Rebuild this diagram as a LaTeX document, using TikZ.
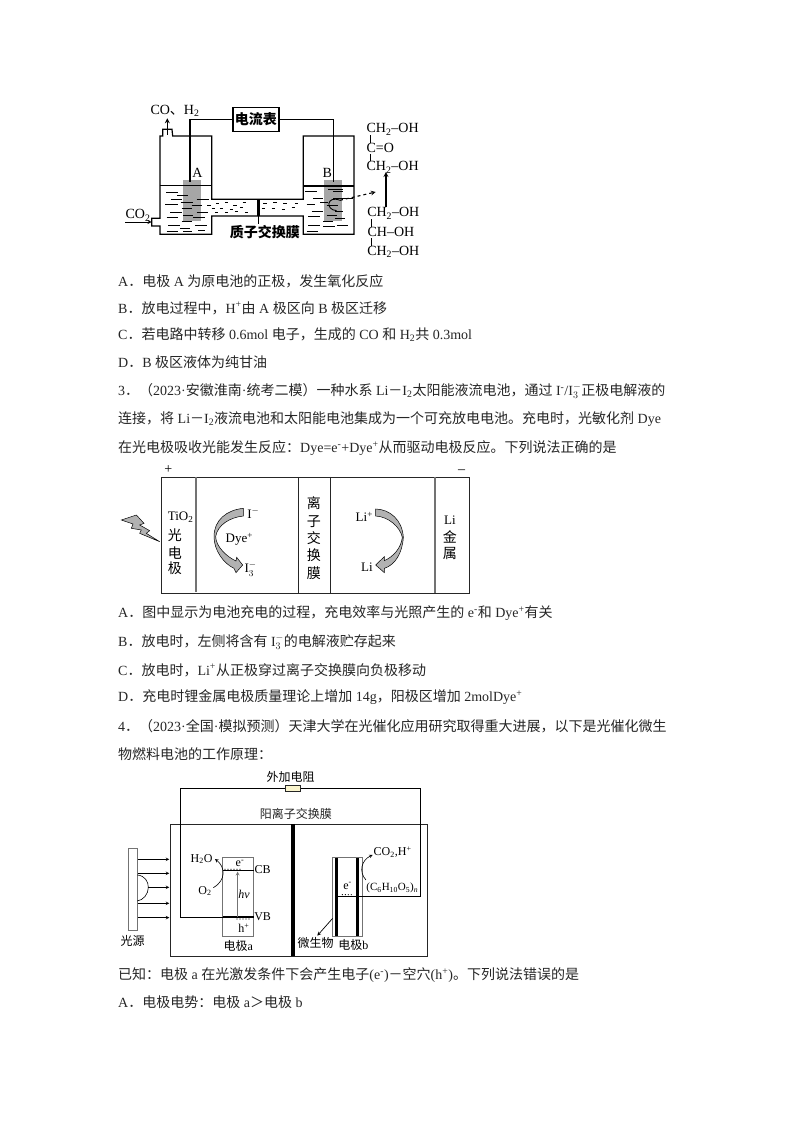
\documentclass[tikz,border=0pt]{standalone}
\usepackage{fontspec}
\setmainfont{Liberation Serif}
\newfontfamily\cjk{Noto Sans CJK SC}
\newcommand{\zh}[1]{{\cjk #1}}
\usetikzlibrary{arrows.meta}
\definecolor{inkgray}{gray}{0.15}
\definecolor{bandgray}{gray}{0.45}
\definecolor{resyellow}{RGB}{250,245,205}
\tikzset{
  bodyline/.style={anchor=west, inner sep=0pt, font=\fontsize{14}{16}\selectfont, text=inkgray},
  biglabel/.style={inner sep=0pt, font=\fontsize{14}{16}\selectfont},
  midlabel/.style={inner sep=0pt, font=\fontsize{13}{15}\selectfont},
  smalllabel/.style={inner sep=0pt, font=\fontsize{12}{14}\selectfont},
  wire/.style={draw=black, line width=1.2pt},
  thindash/.style={line width=0.8pt},
  grayarrow/.style={draw=black, line width=0.5pt, fill=gray!60}
}
\begin{document}
\begin{tikzpicture}[x=1pt, y=-1pt]
\useasboundingbox[fill=white] (0,0) rectangle (794,1123);

\begin{scope}[shift={(110,90)}, x=0.3333pt, y=-0.3333pt]
\node[draw, line width=1.2pt, minimum width=46pt, minimum height=24pt, inner sep=0pt, font=\fontsize{14}{16}\selectfont\cjk\bfseries] (meter) at (438,88) {电流表};
\node[fill=gray!70, minimum width=18pt, minimum height=41pt, inner sep=0pt] (elecA) at (247,333) {};
\node[fill=gray!70, minimum width=18pt, minimum height=41pt, inner sep=0pt] (elecB) at (668,333) {};
\coordinate (wireA) at (240,275);
\coordinate (wireB) at (670,275);
\draw[wire] (meter.west) -- (wireA |- meter.west) -- (wireA);
\draw[wire] (meter.east) -- (wireB |- meter.east) -- (wireB);
\draw[wire] (150,385) -- (150,138) -- (158,138) -- (158,118) -- (186,118) -- (188,138) -- (305,138) -- (305,328) -- (580,328) -- (580,138) -- (732,138) -- (732,433) -- (580,433) -- (580,378) -- (305,378) -- (305,433) -- (150,433) -- (150,408) -- (125,408) -- (125,385) -- cycle;
\draw[wire] (150,287) -- (305,287);
\draw[wire] (580,288) -- (732,288);
\draw[line width=3.4pt] (445,328) -- (445,378);
\draw[line width=0.8pt] (445,378) -- (445,402);
\coordinate (outTop) at (172,85);
\draw[wire, ->, >=stealth] (172,135) -- (outTop);
\node[biglabel] (gasOut) at (195,62) {CO\zh{、}H\textsubscript{2}};
\node[biglabel] (labA) at (262,250) {A};
\node[biglabel] (labB) at (652,250) {B};
\node[biglabel] (gasIn) at (84,376) {CO\textsubscript{2}};
\coordinate (inEnd) at (125,396);
\coordinate (inStart) at (45,396);
\draw[line width=0.9pt, ->, >=stealth] (inStart) -- (inEnd);
\node[inner sep=0pt, font=\fontsize{14}{16}\selectfont\cjk\bfseries] (memName) at (465,425) {质子交换膜};
\node[biglabel] (ketoA) at (848,118) {CH\textsubscript{2}–OH};
\node[biglabel] (ketoB) at (811,175) {C=O};
\node[biglabel] (ketoC) at (848,232) {CH\textsubscript{2}–OH};
\node[biglabel] (glyA) at (850,370) {CH\textsubscript{2}–OH};
\node[biglabel] (glyB) at (843,427) {CH–OH};
\node[biglabel] (glyC) at (850,485) {CH\textsubscript{2}–OH};
\draw[line width=0.9pt] (781,136) -- (781,158);
\draw[line width=0.9pt] (781,192) -- (781,214);
\draw[line width=0.9pt] (785,388) -- (785,410);
\draw[line width=0.9pt] (785,445) -- (785,467);
\draw[wire, ->, >=stealth] (828,350) -- (828,246);
\coordinate (curlEnd) at (690,331);
\coordinate (dashEnd) at (797,306);
\draw[line width=1.1pt, dashed, ->, >=stealth] (curlEnd) -- (dashEnd);
\draw[line width=0.9pt] (curlEnd) .. controls (650,315) and (645,360) .. (680,362);
\end{scope}

\begin{scope}[shift={(150,165)}, x=0.3333pt, y=-0.3333pt]
\foreach \xa/\xb/\ya in {48/85/83,62/95/102,82/115/92,45/85/118,92/130/112,140/178/102,60/95/142,95/125/130,125/155/120,50/85/158,100/130/152,140/175/142,95/125/168,130/165/158,55/90/182,90/120/190,135/170/180,50/85/198,100/125/198,145/165/195}
  \draw[thindash] (\xa,\ya) -- (\xb,\ya);
\foreach \xa/\ya in {172/120,198/115,225/112,250/120,278/113,185/130,210/130,240/132,270/128,195/143,225/143,255/140,285/142}
  \draw[thindash] (\xa,\ya) -- ++(10,0);
\end{scope}
\begin{scope}[shift={(110,90)}, x=0.3333pt, y=-0.3333pt]
\foreach \xa/\ya in {460/340,490/338,520/340,555/340,455/355,485/355,515/358,545/352}
  \draw[thindash] (\xa,\ya) -- ++(10,0);
\end{scope}
\begin{scope}[shift={(295,165)}, x=0.3333pt, y=-0.3333pt]
\foreach \xa/\xb/\ya in {30/65/80,55/85/100,100/145/72,115/145/80,35/60/118,75/100/112,115/150/100,140/175/100,50/85/138,95/130/122,40/75/155,95/125/150,120/145/140,85/115/170,120/150/160,40/75/182,125/160/180,35/70/198,85/120/185}
  \draw[thindash] (\xa,\ya) -- (\xb,\ya);
\end{scope}

\node[bodyline] (optA1) at (118,281) {A\zh{．电极} A \zh{为原电池的正极，发生氧化反应}};
\node[bodyline] (optB1) at (118,308) {B\zh{．放电过程中，}H\textsuperscript{+}\zh{由} A \zh{极区向} B \zh{极区迁移}};
\node[bodyline] (optC1) at (118,335) {C\zh{．若电路中转移} 0.6mol \zh{电子，生成的} CO \zh{和} H\textsubscript{2}\zh{共} 0.3mol};
\node[bodyline] (optD1) at (118,362) {D\zh{．}B \zh{极区液体为纯甘油}};
\node[bodyline] (q3a) at (118,391) {3\zh{．（}2023·\zh{安徽淮南}·\zh{统考二模）一种水系} Li\zh{－}I\textsubscript{2}\zh{太阳能液流电池，通过} I\textsuperscript{-}/I$^{-}_{3}$\zh{正极电解液的}};
\node[bodyline] (q3b) at (118,419) {\zh{连接，将} Li\zh{－}I\textsubscript{2}\zh{液流电池和太阳能电池集成为一个可充放电电池。充电时，光敏化剂} Dye};
\node[bodyline] (q3c) at (118,448) {\zh{在光电极吸收光能发生反应：}Dye=e\textsuperscript{-}+Dye\textsuperscript{+}\zh{从而驱动电极反应。下列说法正确的是}};

\begin{scope}[shift={(110,460)}, x=0.3333pt, y=-0.3333pt]
\node[draw=inkgray, line width=1pt, minimum width=308.3pt, minimum height=116pt, inner sep=0pt] (cellTwo) at (617.5,226) {};
\coordinate (sepA) at (258,395);
\coordinate (sepB) at (565,400);
\coordinate (sepC) at (660,400);
\coordinate (sepD) at (975,400);
\draw[draw=bandgray, line width=1.4pt] (sepA |- cellTwo.north) -- (sepA);
\draw[draw=inkgray, line width=0.9pt] (sepB |- cellTwo.north) -- (sepB);
\draw[draw=inkgray, line width=0.9pt] (sepC |- cellTwo.north) -- (sepC);
\draw[draw=bandgray, line width=1.2pt] (sepD |- cellTwo.north) -- (sepD);
\node[biglabel] (plusSign) at (175,28) {+};
\node[biglabel] (minusSign) at (1055,35) {–};
\node[midlabel, align=center] (tioLabel) at (212,172) {TiO\textsubscript{2}};
\node[biglabel] (tioB) at (195,225) {\zh{光}};
\node[biglabel] (tioC) at (195,278) {\zh{电}};
\node[biglabel] (tioD) at (195,325) {\zh{极}};
\node[midlabel] (iodide) at (430,160) {I$^{-}$};
\node[midlabel] (dyePlus) at (388,238) {Dye\textsuperscript{+}};
\node[midlabel] (triiodide) at (422,328) {I$^{-}_{3}$};
\node[biglabel] (memA) at (612,130) {\zh{离}};
\node[biglabel] (memB) at (612,185) {\zh{子}};
\node[biglabel] (memC) at (612,235) {\zh{交}};
\node[biglabel] (memD) at (612,287) {\zh{换}};
\node[biglabel] (memE) at (612,340) {\zh{膜}};
\node[midlabel] (liPlus) at (763,170) {Li\textsuperscript{+}};
\node[midlabel] (liOut) at (771,322) {Li};
\node[midlabel] (metalA) at (1020,180) {Li};
\node[biglabel] (metalB) at (1020,230) {\zh{金}};
\node[biglabel] (metalC) at (1020,280) {\zh{属}};
\end{scope}
\begin{scope}[shift={(118,500)}, x=0.3333pt, y=-0.3333pt]
\draw[grayarrow] (10,60) -- (55,45) -- (78,70) -- (65,75) -- (95,92) -- (85,100) -- (125,125) -- (65,100) -- (70,90) -- (40,85) -- (45,72) -- cycle;
\end{scope}
\begin{scope}[shift={(210,500)}, x=0.3333pt, y=-0.3333pt]
\draw[grayarrow] (100,25) .. controls (50,30) and (12,60) .. (12,110) .. controls (12,150) and (40,190) .. (72,205) -- (78,218) -- (98,195) -- (80,172) -- (78,183) .. controls (50,170) and (18,140) .. (17,110) .. controls (22,75) and (60,52) .. (100,48) -- cycle;
\end{scope}
\begin{scope}[shift={(345,500)}, x=0.3333pt, y=-0.3333pt]
\draw[grayarrow] (92,27) .. controls (135,28) and (172,60) .. (175,112) .. controls (172,160) and (150,195) .. (118,205) -- (118,218) -- (92,195) -- (118,170) -- (118,182) .. controls (145,170) and (168,145) .. (172,112) .. controls (165,80) and (130,50) .. (92,48) -- cycle;
\end{scope}

\node[bodyline] (optA2) at (118,613) {A\zh{．图中显示为电池充电的过程，充电效率与光照产生的} e\textsuperscript{-}\zh{和} Dye\textsuperscript{+}\zh{有关}};
\node[bodyline] (optB2) at (118,642) {B\zh{．放电时，左侧将含有} I$^{-}_{3}$\zh{的电解液贮存起来}};
\node[bodyline] (optC2) at (118,670) {C\zh{．放电时，}Li\textsuperscript{+}\zh{从正极穿过离子交换膜向负极移动}};
\node[bodyline] (optD2) at (118,697) {D\zh{．充电时锂金属电极质量理论上增加} 14g\zh{，阳极区增加} 2molDye\textsuperscript{+}};
\node[bodyline] (q4a) at (118,726) {4\zh{．（}2023·\zh{全国}·\zh{模拟预测）天津大学在光催化应用研究取得重大进展，以下是光催化微生}};
\node[bodyline] (q4b) at (118,754) {\zh{物燃料电池的工作原理：}};

\begin{scope}[shift={(110,765)}, x=0.3333pt, y=-0.3333pt]
\node[draw=inkgray, line width=0.8pt, minimum width=257.3pt, minimum height=131.7pt, inner sep=0pt] (cellThree) at (566,375.5) {};
\node[draw=inkgray, line width=0.8pt, fill=resyellow, minimum width=15.7pt, minimum height=5.3pt, inner sep=0pt] (resistor) at (548.5,70) {};
\node[draw=bandgray, line width=0.8pt, fill=white, minimum width=8.7pt, minimum height=82.3pt, inner sep=0pt] (lampBar) at (69,373.5) {};
\node[draw=bandgray, line width=0.8pt, minimum width=30.7pt, minimum height=78.3pt, inner sep=0pt] (elecBoxA) at (384,395.5) {};
\node[draw=bandgray, line width=0.8pt, minimum width=30pt, minimum height=78.3pt, inner sep=0pt] (elecBoxB) at (712,395.5) {};
\coordinate (wireLeft) at (210,456);
\coordinate (wireRight) at (932,393);
\coordinate (bandCB) at (338,317);
\coordinate (bandVB) at (338,456);
\coordinate (bandB) at (683,393);
\draw[line width=0.7pt] (resistor.west) -- (wireLeft |- resistor.west) -- (wireLeft) -- (bandVB);
\draw[line width=0.7pt] (resistor.east) -- (wireRight |- resistor.east) -- (wireRight) -- (bandB);
\coordinate (memX) at (549,0);
\draw[line width=4pt] (cellThree.north -| memX) -- (cellThree.south -| memX);
\draw[line width=1.3pt] (bandCB) -- (bandCB -| elecBoxA.east);
\draw[line width=1.3pt] (bandVB) -- (bandVB -| elecBoxA.east);
\draw[line width=2.4pt] (680,278) -- (680,513);
\draw[line width=2.4pt] (742,278) -- (742,513);
\foreach \ry [count=\ri] in {283,325,415,458} {
  \coordinate (rayEnd\ri) at (178,\ry);
  \draw[line width=0.6pt, ->, >=stealth] (lampBar.east |- rayEnd\ri) -- (rayEnd\ri);
}
\coordinate (rayMid) at (178,367);
\draw[line width=0.6pt, ->, >=stealth] (115,367) -- (rayMid);
\draw[line width=0.6pt] (82,330) .. controls (105,332) and (115,350) .. (115,367) .. controls (115,388) and (100,405) .. (82,408);
\draw[draw=bandgray, line width=0.7pt, ->, >=stealth] (383,456) -- (383,320);
\foreach \dx in {345,354,363,372,381,390} \fill (\dx,313) circle[radius=1.8];
\foreach \dx in {381,390,399,408,417} \fill (\dx,462) circle[radius=1.8];
\foreach \dx in {697,706,715,724} \fill (\dx,389) circle[radius=1.8];
\draw[line width=0.6pt, ->, >=stealth] (310,368) .. controls (350,345) and (345,305) .. (315,282);
\draw[line width=0.6pt, ->, >=stealth] (768,345) .. controls (745,320) and (755,285) .. (788,270);
\draw[line width=0.7pt, ->, >=stealth] (668,460) -- (622,512);
\node[smalllabel] (resName) at (542,36) {\zh{外加电阻}};
\node[smalllabel, text=inkgray] (memTitle) at (558,147) {\zh{阳离子交换膜}};
\node[smalllabel] (lampName) at (68,527) {\zh{光源}};
\node[smalllabel] (waterOut) at (275,282) {H\textsubscript{2}O};
\node[smalllabel] (oxygen) at (285,378) {O\textsubscript{2}};
\node[smalllabel] (cbLabel) at (458,315) {CB};
\node[smalllabel] (vbLabel) at (458,455) {VB};
\node[smalllabel] (eA) at (390,296) {e\textsuperscript{-}};
\node[smalllabel] (hvLabel) at (402,388) {\textit{hν}};
\node[smalllabel] (hPlus) at (402,490) {h\textsuperscript{+}};
\node[smalllabel] (nameA) at (385,542) {\zh{电极}a};
\node[smalllabel] (eB) at (713,363) {e\textsuperscript{-}};
\node[smalllabel] (gasB) at (848,262) {CO\textsubscript{2},H\textsuperscript{+}};
\node[inner sep=0pt, font=\fontsize{11}{13}\selectfont] (starch) at (847,370) {(C\textsubscript{6}H\textsubscript{10}O\textsubscript{5})\textsubscript{\textit{n}}};
\node[smalllabel] (microbe) at (617,535) {\zh{微生物}};
\node[smalllabel] (nameB) at (730,540) {\zh{电极}b};
\end{scope}

\node[bodyline] (known) at (118,975) {\zh{已知：电极} a \zh{在光激发条件下会产生电子}(e\textsuperscript{-})\zh{－空穴}(h\textsuperscript{+})\zh{。下列说法错误的是}};
\node[bodyline] (optA3) at (118,1002) {A\zh{．电极电势：电极} a\zh{＞电极} b};
\end{tikzpicture}
\end{document}
